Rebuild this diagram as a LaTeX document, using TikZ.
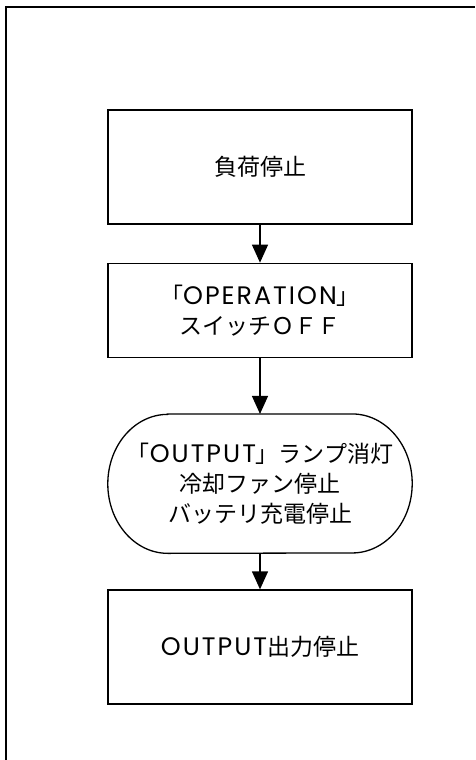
\documentclass[tikz,border=0pt]{standalone}
\usepackage{fontspec}
\setmainfont{Noto Sans CJK JP}
\newfontfamily\latinfont{Poppins}[Scale=1.1,LetterSpace=8]
\usetikzlibrary{calc}
\usetikzlibrary{positioning}
\usetikzlibrary{arrows.meta}

\tikzset{
  procbox/.style={draw, line width=1.3pt, minimum width=304pt, inner sep=0pt, align=center},
  arr/.style={line width=1.3pt, -{Triangle[width=16pt,length=18pt]}},
  every node/.style={font=\fontsize{23}{30}\selectfont}
}

\begin{document}
\begin{tikzpicture}[x=1pt,y=-1pt]
  \useasboundingbox (0,0) rectangle (475,760);
  \draw [line width=2.3pt] (6.3,760) -- (6.3,7) -- (475,7);

  \node [procbox, minimum height=114pt] (load) at (260,167) {負荷停止};
  \node [procbox, minimum height=94pt, below=38pt of load] (opsw) {「{\latinfont OPERATION}」\\スイッチＯＦＦ};
  \node [minimum width=304pt, minimum height=139pt, inner sep=0pt, align=center, below=56pt of opsw] (lamp) {「{\latinfont OUTPUT}」ランプ消灯\\冷却ファン停止\\バッテリ充電停止};
  \node [procbox, minimum height=114pt, below=36pt of lamp] (outstop) {{\latinfont OUTPUT}出力停止};

  \draw [line width=1.3pt] ([xshift=60pt]lamp.north west) -- ([xshift=-60pt]lamp.north east)
    arc [start angle=90, end angle=-90, x radius=60pt, y radius=69.5pt]
    -- ([xshift=60pt]lamp.south west)
    arc [start angle=270, end angle=90, x radius=60pt, y radius=69.5pt] -- cycle;

  \draw [arr] (load) -- (opsw);
  \draw [arr] (opsw) -- (lamp);
  \draw [arr] (lamp) -- (outstop);
\end{tikzpicture}
\end{document}
